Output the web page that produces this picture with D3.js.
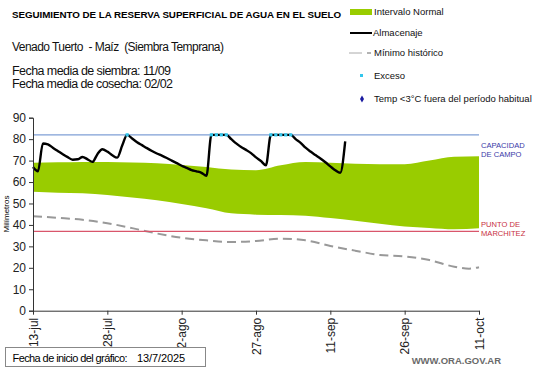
<!DOCTYPE html>
<html>
<head>
<meta charset="utf-8">
<script src="https://cdn.jsdelivr.net/npm/d3@7"></script>
<style>
  body { margin: 0; background: #fff; }
  svg { display: block; font-family: "Liberation Sans", Arial, sans-serif; }
</style>
</head>
<body>
<div class="chart"></div>
<script>
// days since 13/7/2025
const tickDays = [0, 15, 30, 45, 60, 75, 90]
const tickLabels = ["13-jul", "28-jul", "12-ago", "27-ago", "11-sep", "26-sep", "11-oct"]

const bandDays  = [0, 5, 10, 15, 20, 25, 30, 35, 40, 45, 50, 55, 60, 65, 70, 75, 80, 85, 90]
const bandUpper = [69, 69.2, 69.4, 69.3, 69.1, 68.8, 68, 67, 65.8, 65.5, 67.8, 69.3, 69, 68.5, 68.3, 68.3, 70, 71.8, 72]
const bandLower = [55.5, 55, 54.8, 54, 52.8, 51.5, 49.8, 47.8, 45.4, 44.8, 44.6, 44.3, 43.2, 42, 40.6, 39.3, 38.6, 38, 38.5]

const minDays = [0, 5, 10, 15, 20, 25, 30, 35, 40, 45, 50, 55, 60, 65, 70, 75, 80, 85, 88, 90]
const minHist = [44.1, 43.3, 42.4, 40.8, 38.5, 36, 34, 32.8, 32, 32.5, 33.6, 32.8, 30.2, 28, 26, 25.3, 23.6, 20.5, 19.6, 20.3]

// almacenaje, one value per day from day 0
const almacenaje = [67, 65, 78, 77.6, 76, 74.5, 73, 71.6, 70.4, 70.6,
  71.7, 70.6, 69.4, 73, 75.3, 74.2, 72.5, 71.4, 77, 82,
  80.3, 78.6, 77.2, 75.8, 74.5, 73.3, 72.3, 71.2, 70, 68.8,
  67.6, 66.6, 65.6, 65, 64.3, 62.9, 82, 82, 82, 82,
  80, 78, 76.3, 75, 73.5, 71.5, 69.8, 67.8, 82, 82,
  82, 82, 82, 80, 78.3, 76, 74.2, 72.6, 71, 69.2,
  67.3, 65.5, 64.3, 79]
const excesoDays = [19, 36, 37, 38, 39, 48, 49, 50, 51, 52]

const capacidad = 82
const marchitez = 37

const width = 541
const height = 368

const x = d3.scaleLinear().domain([0, 90]).range([33, 479])
const y = d3.scaleLinear().domain([0, 90]).range([310.7, 117.7])

const svg = d3.create("svg")
  .attr("width", width)
  .attr("height", height)

// header texts
svg.append("text")
  .attr("x", 12).attr("y", 18)
  .style("font", "bold 9.8px 'Liberation Sans', Arial")
  .attr("textLength", 329)
  .text("SEGUIMIENTO DE LA RESERVA SUPERFICIAL DE AGUA EN EL SUELO")

svg.append("text")
  .attr("x", 12).attr("y", 50.5)
  .style("font-size", "12px")
  .style("white-space", "pre")
  .attr("fill", "#111")
  .attr("textLength", 212)
  .text("Venado Tuerto  - Maíz  (Siembra Temprana)")

svg.append("text")
  .attr("x", 12).attr("y", 75)
  .style("font-size", "12.5px")
  .attr("fill", "#111")
  .attr("textLength", 159)
  .text("Fecha media de siembra: 11/09")

svg.append("text")
  .attr("x", 12).attr("y", 88.3)
  .style("font-size", "12.5px")
  .attr("fill", "#111")
  .attr("textLength", 161)
  .text("Fecha media de cosecha: 02/02")

// band
const bandData = bandDays.map((d, i) => ({day: d, hi: bandUpper[i], lo: bandLower[i]}))
svg.append("path")
  .datum(bandData)
  .attr("fill", "#99cc00")
  .attr("d", d3.area()
    .curve(d3.curveMonotoneX)
    .x(d => x(d.day))
    .y0(d => y(d.lo))
    .y1(d => y(d.hi)))

// minimo historico
svg.append("path")
  .datum(minDays.map((d, i) => [d, minHist[i]]))
  .attr("fill", "none")
  .attr("stroke", "#999")
  .attr("stroke-width", 2)
  .attr("stroke-dasharray", "9,5")
  .attr("d", d3.line().curve(d3.curveMonotoneX).x(d => x(d[0])).y(d => y(d[1])))

// capacidad / marchitez
svg.append("line")
  .attr("x1", x(0)).attr("x2", x(90))
  .attr("y1", y(capacidad)).attr("y2", y(capacidad))
  .attr("stroke", "#7f9fd6").attr("stroke-width", 1.2)

svg.append("line")
  .attr("x1", x(0)).attr("x2", x(90))
  .attr("y1", y(marchitez)).attr("y2", y(marchitez))
  .attr("stroke", "#d9566b").attr("stroke-width", 1.2)

// almacenaje
svg.append("path")
  .datum(almacenaje)
  .attr("fill", "none")
  .attr("stroke", "#000")
  .attr("stroke-width", 2.4)
  .attr("stroke-linejoin", "round")
  .attr("d", d3.line().curve(d3.curveMonotoneX).x((d, i) => x(i)).y(d => y(d)))

svg.append("g")
  .selectAll("rect")
  .data(excesoDays)
  .join("rect")
  .attr("x", d => x(d) - 1.6)
  .attr("y", d => y(almacenaje[d]) - 1.6)
  .attr("width", 3.2)
  .attr("height", 3.2)
  .attr("fill", "#33c6ec")

// right side labels
const rl = svg.append("g").style("font-size", "7.6px").style("white-space", "pre")
rl.append("text").attr("x", 481).attr("y", 148).attr("fill", "#3a3aa8").text("CAPACIDAD")
rl.append("text").attr("x", 481).attr("y", 156.5).attr("fill", "#3a3aa8").text("DE  CAMPO")
rl.append("text").attr("x", 481).attr("y", 227).attr("fill", "#c8303f").text("PUNTO  DE")
rl.append("text").attr("x", 481).attr("y", 235.5).attr("fill", "#c8303f").text("MARCHITEZ")

// axes
const yAxis = svg.append("g")
  .attr("transform", `translate(${x(0)},0)`)
  .call(d3.axisLeft(y).tickValues(d3.range(0, 91, 10)).tickSize(4).tickPadding(3))
yAxis.selectAll("text").style("font-size", "12px").style("font-family", "'Liberation Sans', Arial").attr("fill", "#222")
yAxis.selectAll("line, path").attr("stroke", "#333")

const xAxis = svg.append("g")
  .attr("transform", `translate(0,${y(0)})`)
  .call(d3.axisBottom(x).tickValues(tickDays).tickFormat((d, i) => tickLabels[i]).tickSize(4).tickSizeOuter(0))
xAxis.selectAll("line, path").attr("stroke", "#333")
xAxis.selectAll("text")
  .style("font-size", "12px")
  .style("font-family", "'Liberation Sans', Arial")
  .attr("fill", "#222")
  .attr("text-anchor", "end")
  .attr("transform", "rotate(-90)")
  .attr("x", -7)
  .attr("y", 0)
  .attr("dy", "0.35em")

svg.append("text")
  .attr("transform", "translate(9,214) rotate(-90)")
  .attr("text-anchor", "middle")
  .style("font-size", "8px")
  .text("Milímetros")

// legend
const lg = svg.append("g").style("font-size", "9.5px").attr("fill", "#111")
lg.append("rect").attr("x", 350).attr("y", 9).attr("width", 22).attr("height", 6).attr("fill", "#99cc00")
lg.append("text").attr("x", 374).attr("y", 15).text("Intervalo Normal")
lg.append("line").attr("x1", 350).attr("x2", 372).attr("y1", 33).attr("y2", 33).attr("stroke", "#000").attr("stroke-width", 2)
lg.append("text").attr("x", 373).attr("y", 36).text("Almacenaje")
lg.append("line").attr("x1", 349).attr("x2", 362).attr("y1", 53).attr("y2", 53).attr("stroke", "#aaa").attr("stroke-width", 1)
lg.append("line").attr("x1", 367).attr("x2", 371).attr("y1", 53).attr("y2", 53).attr("stroke", "#666").attr("stroke-width", 1)
lg.append("text").attr("x", 374).attr("y", 56).text("Mínimo histórico")
lg.append("rect").attr("x", 360).attr("y", 74).attr("width", 3).attr("height", 3).attr("fill", "#33c6ec")
lg.append("text").attr("x", 374).attr("y", 79).text("Exceso")
lg.append("path").attr("d", d3.symbol(d3.symbolDiamond, 14)()).attr("transform", "translate(362,99)").attr("fill", "#1a1aa0")
lg.append("text").attr("x", 374).attr("y", 102).text("Temp <3°C fuera del período habitual")

// footer
svg.append("rect")
  .attr("x", 5.5).attr("y", 347.5).attr("width", 200).attr("height", 19)
  .attr("fill", "#fff").attr("stroke", "#888")
svg.append("text")
  .attr("x", 12.5).attr("y", 361.5)
  .style("font", "11px 'Liberation Sans', Arial")
  .attr("textLength", 115)
  .text("Fecha de inicio del gráfico:")
svg.append("text")
  .attr("x", 137).attr("y", 361.5)
  .style("font", "11px 'Liberation Sans', Arial")
  .attr("textLength", 48)
  .text("13/7/2025")

svg.append("text")
  .attr("x", 501).attr("y", 364)
  .attr("text-anchor", "end")
  .style("font", "bold 9.5px 'Liberation Sans', Arial")
  .attr("fill", "#6a6a6a")
  .text("WWW.ORA.GOV.AR")

document.querySelector(".chart").append(svg.node())
</script>
</body>
</html>
